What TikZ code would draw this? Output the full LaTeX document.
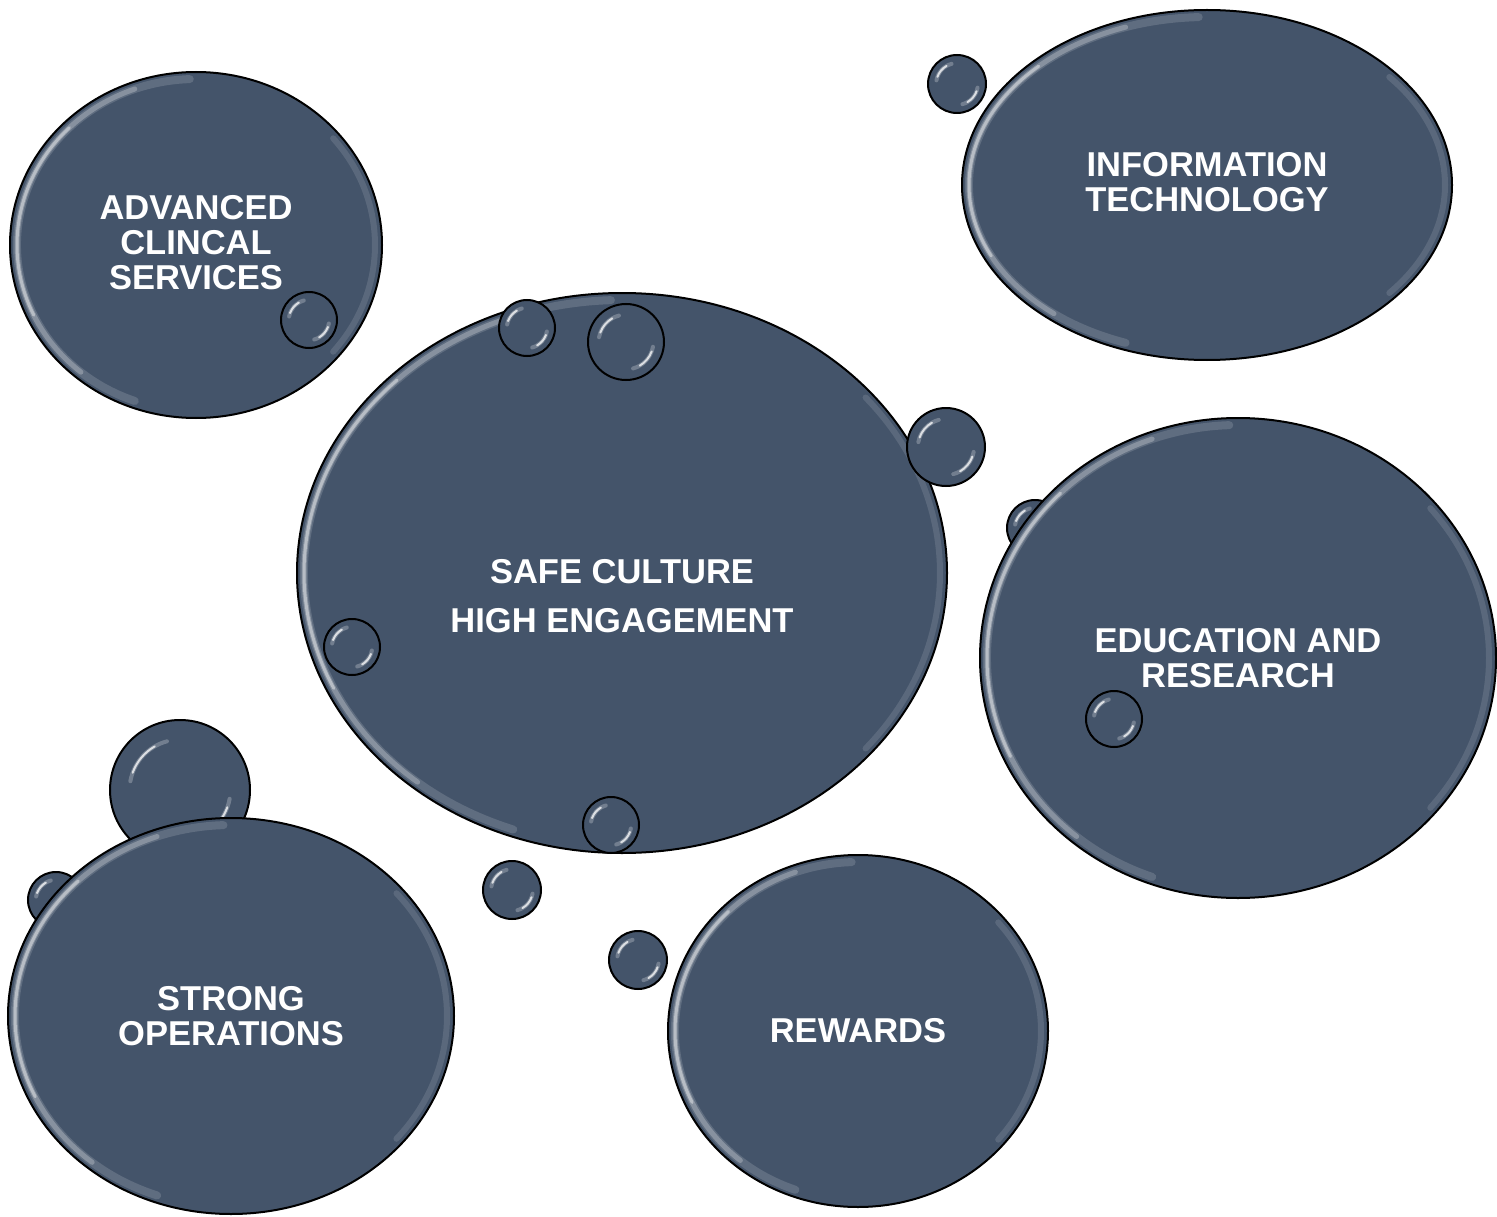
\documentclass[tikz,border=0pt]{standalone}
\usepackage{fontspec}
\setmainfont{Liberation Sans}
\usetikzlibrary{shapes.geometric}
\definecolor{slate}{HTML}{44546A}
\tikzset{
  bub/.style={ellipse, fill=slate, draw=black, line width=2pt, inner sep=0pt},
  drop/.style={circle, fill=slate, draw=black, line width=2pt, inner sep=0pt},
  lbl/.style={text=white, font=\fontsize{34.5}{35}\selectfont\bfseries, align=center},
  glow/.style={white, line cap=round}
}
% gloss on large ellipse: cx cy rx ry
\newcommand\bigglint[4]{%
  \pgfmathsetmacro\gA{#3-7}\pgfmathsetmacro\gB{#4-7}%
  \draw[glow, opacity=.15, line width=8pt] (#1,#2) ++(110:\gA\space and \gB) arc[start angle=110,end angle=268,x radius=\gA,y radius=\gB];
  \draw[glow, opacity=.25, line width=5pt] (#1,#2) ++(130:\gA\space and \gB) arc[start angle=130,end angle=250,x radius=\gA,y radius=\gB];
  \draw[glow, opacity=.4, line width=3pt] (#1,#2) ++(155:\gA\space and \gB) arc[start angle=155,end angle=225,x radius=\gA,y radius=\gB];
  \draw[glow, opacity=.12, line width=6pt] (#1,#2) ++(-40:\gA\space and \gB) arc[start angle=-40,end angle=40,x radius=\gA,y radius=\gB];
}
% gloss on small drop: cx cy r
\newcommand\smallglint[3]{%
  \pgfmathsetmacro\gR{#3*0.72}%
  \draw[glow, opacity=.25, line width=4pt] (#1,#2) ++(190:\gR) arc[start angle=190,end angle=255,radius=\gR];
  \draw[glow, opacity=.75, line width=2pt] (#1,#2) ++(200:\gR) arc[start angle=200,end angle=240,radius=\gR];
  \draw[glow, opacity=.25, line width=4pt] (#1,#2) ++(10:\gR) arc[start angle=10,end angle=75,radius=\gR];
  \draw[glow, opacity=.75, line width=2pt] (#1,#2) ++(20:\gR) arc[start angle=20,end angle=60,radius=\gR];
}
\begin{document}
\begin{tikzpicture}[x=1pt,y=-1pt]
\useasboundingbox (0,0) rectangle (1497,1217);

% drops behind large bubbles
\node[drop, minimum size=56pt] (d6) at (1035,528) {};
\smallglint{1035}{528}{28}
\node[drop, minimum size=140pt] (d9) at (180,790) {};
\smallglint{180}{790}{70}
\node[drop, minimum size=56pt] (d11) at (56,900) {};
\smallglint{56}{900}{28}

% large bubbles
\node[bub, minimum width=372pt, minimum height=346pt] (adv) at (196,245) {};
\bigglint{196}{245}{186}{173}
\node[bub, minimum width=490pt, minimum height=350pt] (it) at (1207,185) {};
\bigglint{1207}{185}{245}{175}
\node[bub, minimum width=650pt, minimum height=560pt] (safe) at (622,573) {};
\bigglint{622}{573}{325}{280}
\node[bub, minimum width=516pt, minimum height=480pt] (edu) at (1238,658) {};
\bigglint{1238}{658}{258}{240}
\node[bub, minimum width=446pt, minimum height=396pt] (ops) at (231,1016) {};
\bigglint{231}{1016}{223}{198}
\node[bub, minimum width=380pt, minimum height=352pt] (rew) at (858,1031) {};
\bigglint{858}{1031}{190}{176}

% labels
\node[lbl] (advt) at (196,243) {ADVANCED\\CLINCAL\\SERVICES};
\node[lbl] (itt) at (1207,182) {INFORMATION\\TECHNOLOGY};
\node[lbl] (safet) at (622,596) {SAFE CULTURE\\[14pt]HIGH ENGAGEMENT};
\node[lbl] (edut) at (1238,658) {EDUCATION AND\\RESEARCH};
\node[lbl] (opst) at (231,1016) {STRONG\\OPERATIONS};
\node[lbl] (rewt) at (858,1031) {REWARDS};

% drops in front
\node[drop, minimum size=58pt] (d1) at (957,84) {};
\smallglint{957}{84}{29}
\node[drop, minimum size=56pt] (d2) at (309,320) {};
\smallglint{309}{320}{28}
\node[drop, minimum size=56pt] (d3) at (527,328) {};
\smallglint{527}{328}{28}
\node[drop, minimum size=76pt] (d4) at (626,342) {};
\smallglint{626}{342}{38}
\node[drop, minimum size=78pt] (d5) at (946,447) {};
\smallglint{946}{447}{39}
\node[drop, minimum size=56pt] (d7) at (352,647) {};
\smallglint{352}{647}{28}
\node[drop, minimum size=56pt] (d8) at (1114,719) {};
\smallglint{1114}{719}{28}
\node[drop, minimum size=56pt] (d10) at (611,825) {};
\smallglint{611}{825}{28}
\node[drop, minimum size=58pt] (d12) at (512,890) {};
\smallglint{512}{890}{29}
\node[drop, minimum size=58pt] (d13) at (638,960) {};
\smallglint{638}{960}{29}
\end{tikzpicture}
\end{document}
